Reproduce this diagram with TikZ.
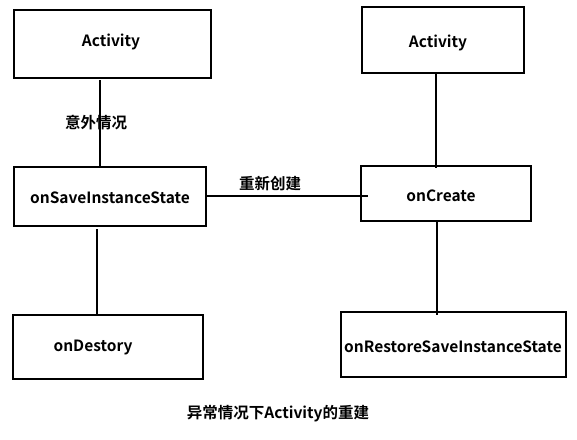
\documentclass[tikz,border=0pt]{standalone}
\usepackage{fontspec}
\setmainfont{Noto Sans CJK SC}[BoldFont={* Bold}]
\begin{document}
\begin{tikzpicture}[x=1pt,y=-1pt,
  box/.style={draw,line width=1.3pt,inner sep=0pt},
  lbl/.style={font=\bfseries\fontsize{15.5}{18}\selectfont,inner sep=0pt},
  conn/.style={line width=1.3pt}]
\useasboundingbox (0,0) rectangle (577,439);
\node[box,minimum width=197,minimum height=68] (a1) at (112.5,44) {};
\node[box,minimum width=162,minimum height=66] (a2) at (443,40) {};
\node[box,minimum width=192,minimum height=59] (s) at (110,196.5) {};
\node[box,minimum width=170,minimum height=55] (c) at (446,193.5) {};
\node[box,minimum width=190,minimum height=64] (d) at (108,347) {};
\node[box,minimum width=225,minimum height=65] (r) at (453.5,344.5) {};
\node[lbl] (ta1) at (111,42) {Activity};
\node[lbl] (ta2) at (438,43) {Activity};
\node[lbl] (ts) at (110,198) {onSaveInstanceState};
\node[lbl] (tc) at (441,196) {onCreate};
\node[lbl] (td) at (93,347) {onDestory};
\node[lbl] (tr) at (453,347) {onRestoreSaveInstanceState};
\coordinate (p1) at (100,80);
\coordinate (p2) at (100,166);
\draw[conn] (p1) -- (p2);
\coordinate (q1) at (207,196);
\coordinate (q2) at (368,196);
\draw[conn] (q1) -- (q2);
\coordinate (u1) at (436,74);
\coordinate (u2) at (436,168);
\draw[conn] (u1) -- (u2);
\coordinate (v1) at (97,229);
\coordinate (v2) at (97,314);
\draw[conn] (v1) -- (v2);
\coordinate (w1) at (437,222);
\coordinate (w2) at (437,315);
\draw[conn] (w1) -- (w2);
\node[lbl] (l1) at (96,123) {意外情况};
\node[lbl] (l2) at (270,184) {重新创建};
\node[lbl] (cap) at (278,414) {异常情况下Activity的重建};
\end{tikzpicture}
\end{document}
